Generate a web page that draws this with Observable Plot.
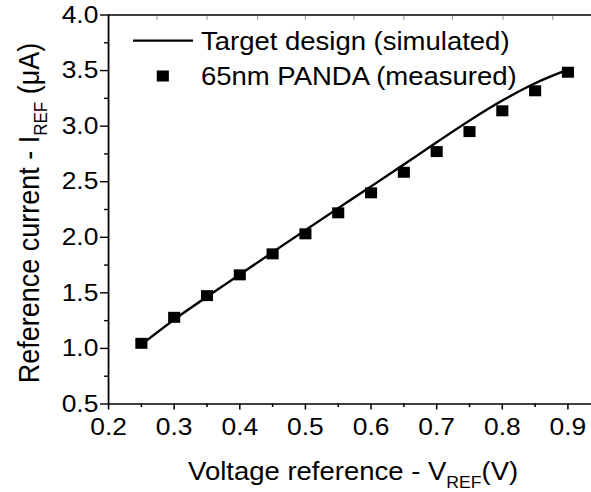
<!DOCTYPE html>
<html>
<head>
<meta charset="utf-8">
<script src="https://cdn.jsdelivr.net/npm/d3@7"></script>
<script src="https://cdn.jsdelivr.net/npm/@observablehq/plot@0.6"></script>
<style>
  html, body { margin: 0; padding: 0; background: #fff; }
  #chart svg { display: block; }
</style>
</head>
<body>
<div id="chart"></div>
<script>
// Reference voltage sweep (V)
const vref = [0.25, 0.30, 0.35, 0.40, 0.45, 0.50, 0.55, 0.60, 0.65, 0.70, 0.75, 0.80, 0.85, 0.90];
// Measured reference current on 65nm PANDA (µA)
const measured = [1.046, 1.280, 1.475, 1.662, 1.851, 2.031, 2.220, 2.400, 2.585, 2.771, 2.951, 3.138, 3.318, 3.485];
// Simulated target design current (µA)
const simulated = [1.035, 1.260, 1.465, 1.665, 1.865, 2.065, 2.262, 2.458, 2.655, 2.855, 3.050, 3.230, 3.386, 3.508];

const xTicks = [0.2, 0.3, 0.4, 0.5, 0.6, 0.7, 0.8, 0.9];
const xMinorTicks = [0.25, 0.35, 0.45, 0.55, 0.65, 0.75, 0.85];
const yTicks = [0.5, 1.0, 1.5, 2.0, 2.5, 3.0, 3.5, 4.0];
const yMinorTicks = [0.75, 1.25, 1.75, 2.25, 2.75, 3.25, 3.75];
const topTicks = [0.274, 0.350, 0.427, 0.500, 0.574, 0.650, 0.724, 0.801, 0.877];

const legendLabels = ["Target design (simulated)", "65nm PANDA (measured)"];
const xTitle = ["Voltage reference - V", "REF", "(V)"];
const yTitle = ["Reference current - I", "REF", " (\u03bcA)"];

const FONT = '"Liberation Sans", Arial, Helvetica, sans-serif';
const SX = 1.1;           // glyphs and marks are drawn slightly wider than tall
const OUT_W = 591, H = 492;
const W = OUT_W / SX;

const simRows = vref.map((v, i) => ({v, current: simulated[i]}));
const measRows = vref.map((v, i) => ({v, current: measured[i]}));

// short tick hanging down from the top border
const hangingTick = {draw(context, l) { context.moveTo(0, 0); context.lineTo(0, l); }};

const chart = Plot.plot({
  width: W,
  height: H,
  marginLeft: 108 / SX,
  marginRight: 0,
  marginTop: 14.5,
  marginBottom: 88.5,
  style: {fontFamily: FONT, fontSize: "24px", color: "#000", background: "#fff", overflow: "visible"},
  x: {domain: [0.2, 0.936]},
  y: {domain: [0.5, 4.0]},
  marks: [
    Plot.axisX({ticks: xTicks, tickSize: 6, tickPadding: 8, tickFormat: d3.format(".1f"), label: null, strokeWidth: 1.4}),
    Plot.axisX({ticks: xMinorTicks, tickSize: 3.5, fill: "none", label: null, strokeWidth: 1.4}),
    Plot.axisY({ticks: yTicks, tickSize: 7.3, tickPadding: 2, tickFormat: d3.format(".1f"), label: null, strokeWidth: 1.4}),
    Plot.axisY({ticks: yMinorTicks, tickSize: 3.6, fill: "none", label: null, strokeWidth: 1.4}),
    Plot.vector(topTicks, {x: (d) => d, y: 4.0, length: 3, shape: hangingTick, stroke: "#999", strokeWidth: 1}),
    Plot.ruleY([0.5], {strokeWidth: 1.6}),
    Plot.ruleY([4.0], {strokeWidth: 1.6}),
    Plot.ruleX([0.2], {strokeWidth: 1.6}),
    Plot.line(simRows, {x: "v", y: "current", stroke: "#000", strokeWidth: 2.3, curve: "monotone-x"}),
    Plot.dot(measRows, {x: "v", y: "current", symbol: "square", r: 6.2, fill: "#000", stroke: "none"})
  ]
});

// Stretch the drawing horizontally to the output width
chart.setAttribute("width", OUT_W);
chart.setAttribute("height", H);
chart.setAttribute("preserveAspectRatio", "none");
chart.style.width = OUT_W + "px";
chart.style.height = H + "px";
chart.style.maxWidth = "none";

const svg = d3.select(chart);

// Legend
const legend = svg.append("g")
  .attr("font-family", FONT).attr("font-size", 25).attr("fill", "#000").attr("text-anchor", "start");
legend.append("line")
  .attr("x1", 120.9).attr("x2", 175.5).attr("y1", 40.7).attr("y2", 40.7)
  .attr("stroke", "#000").attr("stroke-width", 2.3);
legend.append("text").attr("x", 182.7).attr("y", 49.8).text(legendLabels[0]);
legend.append("rect")
  .attr("x", 148 - 5.5).attr("y", 76 - 5.5).attr("width", 11).attr("height", 11).attr("fill", "#000");
legend.append("text").attr("x", 182.7).attr("y", 85).text(legendLabels[1]);

// Axis titles with subscripts
const xt = svg.append("text")
  .attr("font-family", FONT).attr("font-size", 25).attr("fill", "#000")
  .attr("text-anchor", "middle").attr("x", 321).attr("y", 480);
xt.append("tspan").text(xTitle[0]);
xt.append("tspan").attr("font-size", 16).attr("dy", 8).text(xTitle[1]);
xt.append("tspan").attr("dy", -8).text(xTitle[2]);

const yt = svg.append("text")
  .attr("font-family", FONT).attr("font-size", 27).attr("fill", "#000")
  .attr("text-anchor", "middle")
  .attr("transform", "translate(35.5,213) rotate(-90)");
yt.append("tspan").text(yTitle[0]);
yt.append("tspan").attr("font-size", 17).attr("dy", 7.5).text(yTitle[1]);
yt.append("tspan").attr("dy", -7.5).text(yTitle[2]);

document.getElementById("chart").appendChild(chart);
</script>
</body>
</html>
